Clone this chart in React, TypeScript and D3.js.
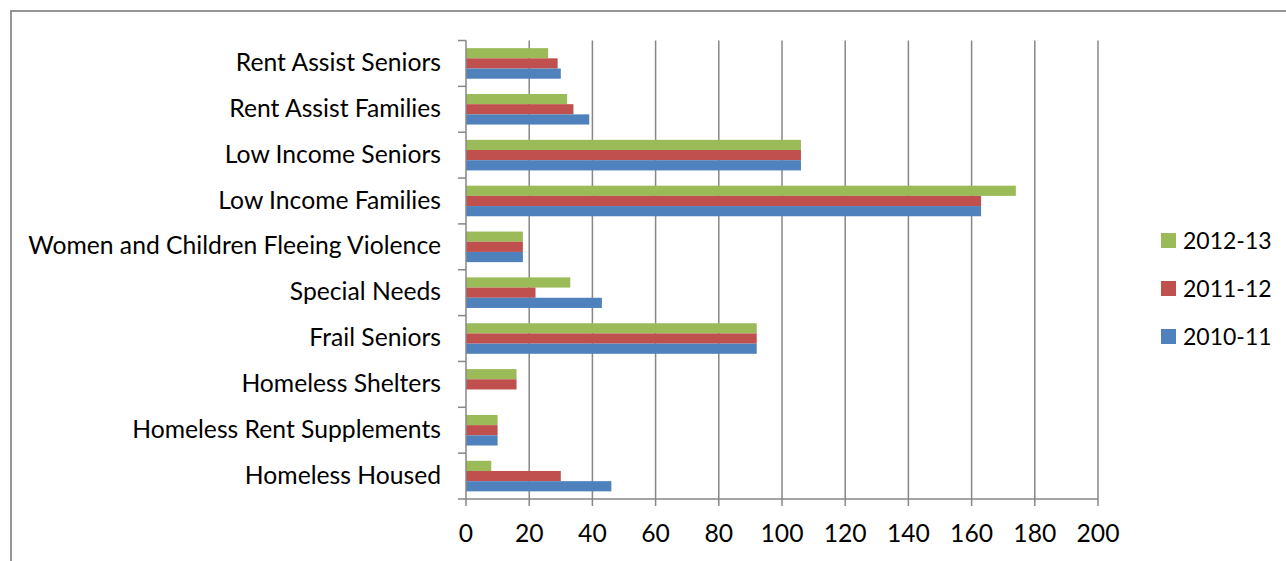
import React from "react";
import * as d3 from "d3";

const categories = [
  "Rent Assist Seniors",
  "Rent Assist Families",
  "Low Income Seniors",
  "Low Income Families",
  "Women and Children Fleeing Violence",
  "Special Needs",
  "Frail Seniors",
  "Homeless Shelters",
  "Homeless Rent Supplements",
  "Homeless Housed",
];

// series listed top-to-bottom within each category group
const seriesNames = ["2012-13", "2011-12", "2010-11"];
const values2012 = [26, 32, 106, 174, 18, 33, 92, 16, 10, 8];
const values2011 = [29, 34, 106, 163, 18, 22, 92, 16, 10, 30];
const values2010 = [30, 39, 106, 163, 18, 43, 92, 0, 10, 46];
const seriesColors = ["#9BBB59", "#C0504D", "#4F81BD"];
const xTicks = [0, 20, 40, 60, 80, 100, 120, 140, 160, 180, 200];

const W = 1286;
const H = 561;
const FONT = "Lato, 'Open Sans', sans-serif";
const GRID = "#878787";
const FS = 24.7;

export default function App() {
  const seriesValues = [values2012, values2011, values2010];
  const x = d3.scaleLinear().domain([0, 200]).range([466, 1098]);
  const y = d3.scaleBand<string>().domain(categories).range([40.5, 499]).paddingInner(0).paddingOuter(0);
  const bw = y.bandwidth();
  const inner = d3.scaleBand<string>().domain(seriesNames).range([bw / 6, (bw * 5) / 6]);

  const tickYs = categories.map((c) => y(c)!).concat([499]);

  return (
    <svg
      width={W}
      height={H}
      style={{ position: "absolute", left: 0, top: 0, background: "#fff" }}
      fontFamily={FONT}
    >
      <rect x={0} y={0} width={W} height={H} fill="#fff" />
      <rect x={11} y={11} width={W} height={H} fill="none" stroke={GRID} strokeWidth={1.75} />

      {/* vertical gridlines */}
      {xTicks.slice(1).map((t) => (
        <line key={"g" + t} x1={x(t)} x2={x(t)} y1={40.5} y2={499} stroke={GRID} strokeWidth={1.5} />
      ))}

      {/* bars */}
      {seriesNames.map((s, si) =>
        categories.map((c, ci) => {
          const v = seriesValues[si][ci];
          if (!v) return null;
          return (
            <rect
              key={s + c}
              x={x(0)}
              y={y(c)! + inner(s)!}
              width={x(v) - x(0)}
              height={inner.bandwidth()}
              fill={seriesColors[si]}
            />
          );
        })
      )}

      {/* category axis */}
      <line x1={x(0)} x2={x(0)} y1={40.5} y2={499} stroke={GRID} strokeWidth={1.5} />
      {tickYs.map((ty, i) => (
        <line key={"yt" + i} x1={458} x2={x(0)} y1={ty} y2={ty} stroke={GRID} strokeWidth={1.5} />
      ))}
      {categories.map((c) => (
        <text
          key={"l" + c}
          x={441}
          y={y(c)! + bw / 2 - 1}
          dy="0.35em"
          textAnchor="end"
          fontSize={FS}
          fill="#000"
        >
          {c}
        </text>
      ))}

      {/* value axis */}
      <line x1={x(0)} x2={x(200)} y1={499} y2={499} stroke={GRID} strokeWidth={1.5} />
      {xTicks.map((t) => (
        <g key={"xt" + t}>
          <line x1={x(t)} x2={x(t)} y1={499} y2={506} stroke={GRID} strokeWidth={1.5} />
          <text x={x(t)} y={541.5} textAnchor="middle" fontSize={FS} fill="#000">
            {t}
          </text>
        </g>
      ))}

      {/* legend */}
      {seriesNames.map((s, i) => (
        <g key={"lg" + s} transform={`translate(1161, ${233 + i * 48})`}>
          <rect x={0} y={0} width={15} height={15} fill={seriesColors[i]} />
          <text x={22} y={7.5} dy="0.35em" fontSize={23} fill="#000">
            {s}
          </text>
        </g>
      ))}
    </svg>
  );
}
